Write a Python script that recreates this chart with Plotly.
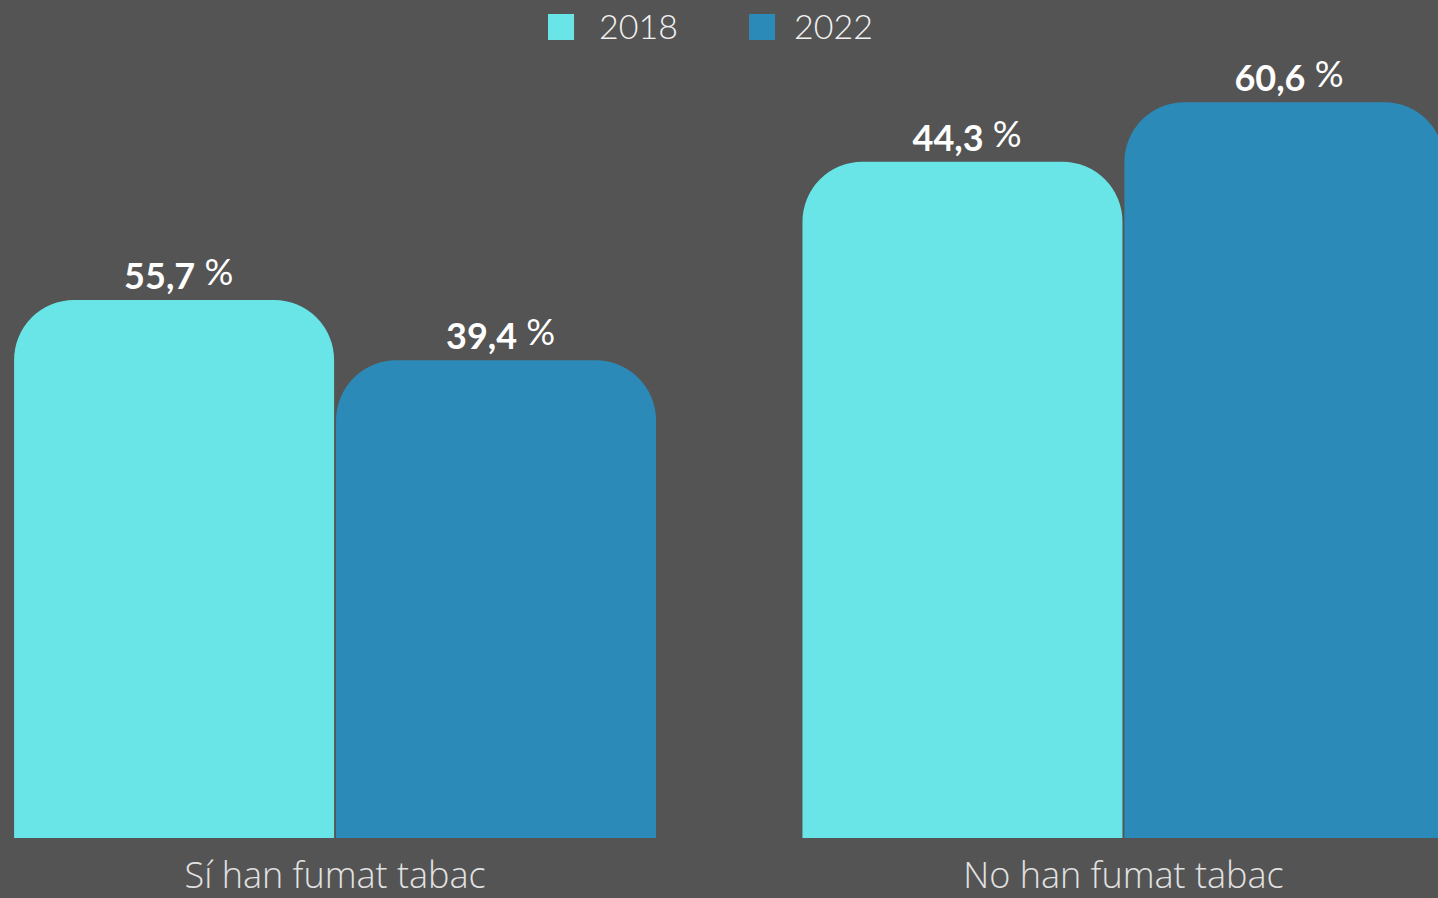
import plotly.graph_objects as go

categories = ["Sí han fumat tabac", "No han fumat tabac"]
series_names = ["2018", "2022"]
colors = ["#69E5E8", "#2C8AB8"]
# bar heights as drawn in the picture (relative units, axis 0-100)
heights_2018 = [64.2, 80.7]
heights_2022 = [57.0, 87.8]
# value labels printed above the bars
labels_2018 = ["55,7", "44,3"]
labels_2022 = ["39,4", "60,6"]

BG = "#545454"


def fmt(lbls):
    return [f"&nbsp;<b>{l}</b> <span style='font-weight:normal;baseline-shift:4px'>%</span>" for l in lbls]


fig = go.Figure()
for name, col, h, lb in [
    (series_names[0], colors[0], heights_2018, labels_2018),
    (series_names[1], colors[1], heights_2022, labels_2022),
]:
    fig.add_trace(go.Bar(
        x=categories, y=h, name=name,
        marker=dict(color=col, line=dict(width=0)),
        text=fmt(lb), textposition="outside", cliponaxis=False,
        textfont=dict(family="Lato", size=36, color="#FFFFFF"),
        showlegend=False, hoverinfo="skip",
    ))

# legend drawn manually (large square keys)
leg_x = [0.3811, 0.5209]
leg_text_x = [0.4151, 0.5508]
for i, name in enumerate(series_names):
    fig.add_shape(type="rect", xref="paper", yref="paper",
                  x0=leg_x[i], x1=leg_x[i] + 0.0181, y0=0.9523, y1=0.9833,
                  fillcolor=colors[i], line=dict(width=0))
    fig.add_annotation(xref="paper", yref="paper", x=leg_text_x[i], y=0.970,
                       xanchor="left", yanchor="middle", text=name, showarrow=False,
                       font=dict(family="Lato", size=34, color="#F2F2F2", weight=300))

fig.update_layout(
    width=1438, height=898,
    paper_bgcolor=BG, plot_bgcolor=BG,
    margin=dict(l=0, r=0, t=0, b=60, autoexpand=False),
    barmode="group", bargap=0.1833, bargroupgap=0.006,
    barcornerradius=60,
    uniformtext=dict(mode=False),
    xaxis=dict(range=[-0.425, 1.399], showgrid=False, zeroline=False, showline=False,
               ticks="", ticklabelstandoff=13, automargin=False,
               tickfont=dict(family="Open Sans", size=36, color="#E2E2E2", weight=300)),
    yaxis=dict(range=[0, 100], visible=False, automargin=False),
)

fig.write_html("out.html", config={"displayModeBar": False},
               post_script="document.body.style.margin='0px';document.body.style.overflow='hidden';")
